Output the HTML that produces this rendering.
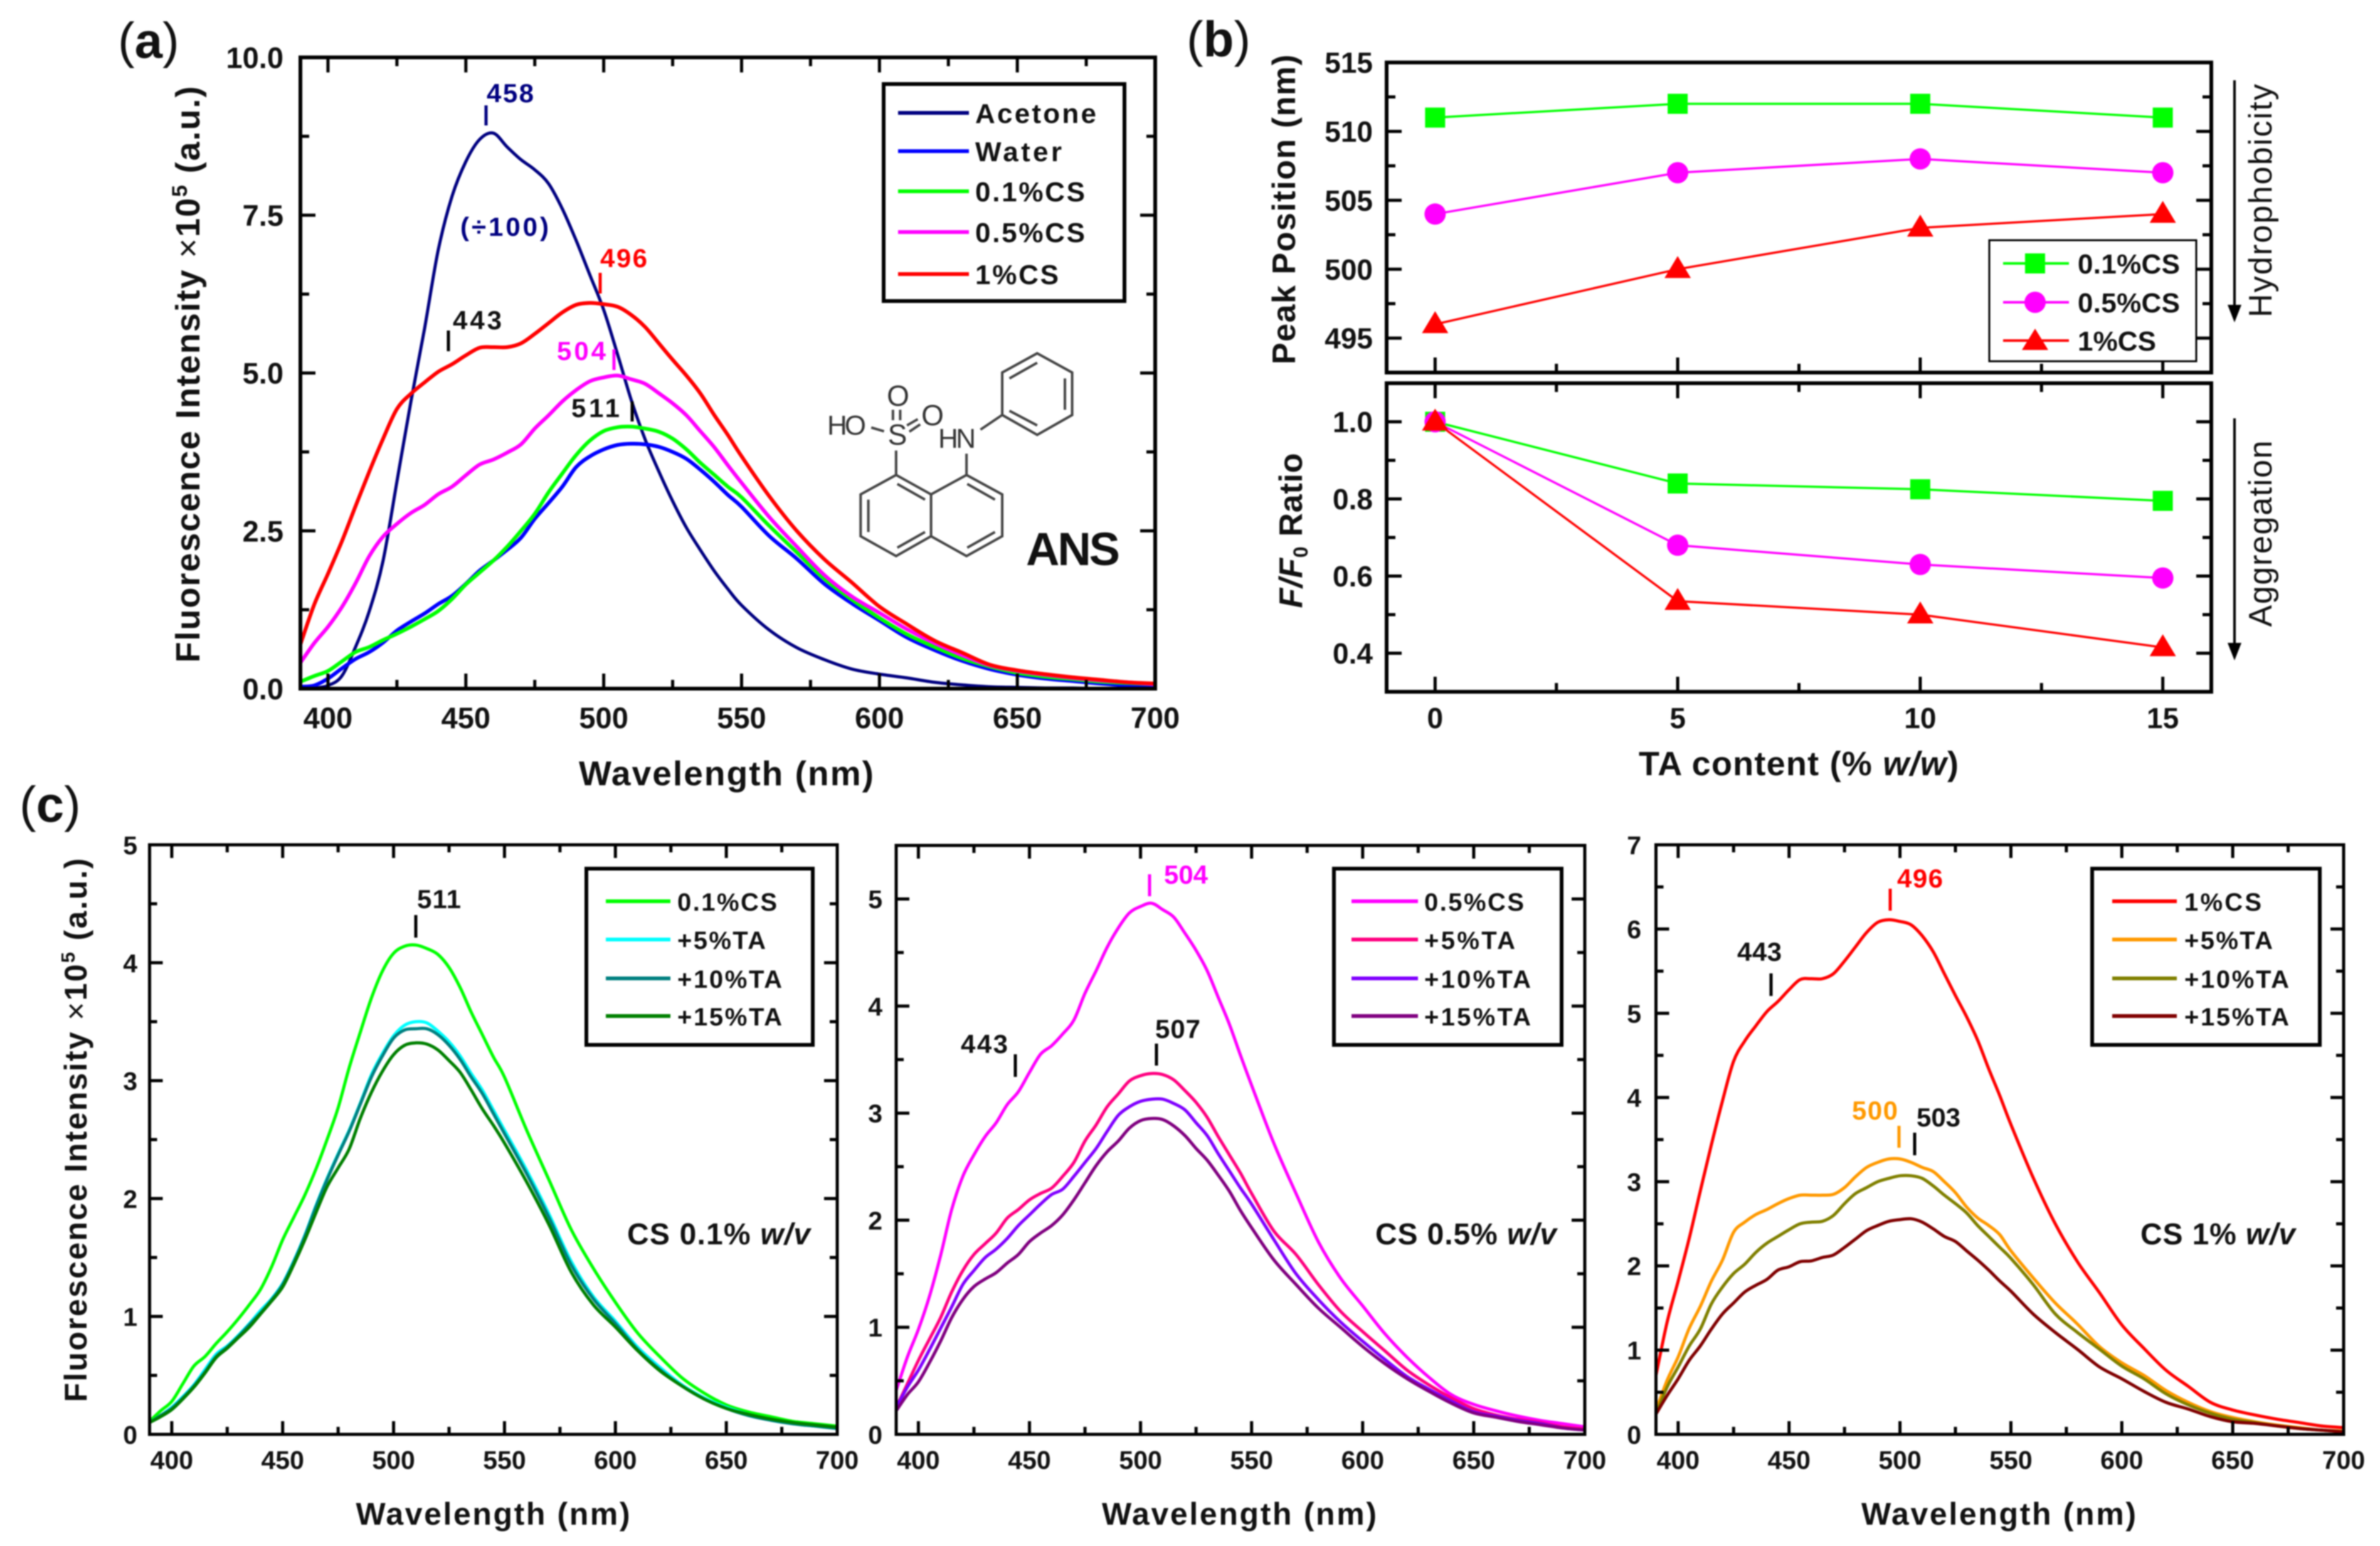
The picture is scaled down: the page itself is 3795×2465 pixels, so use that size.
<!DOCTYPE html>
<html lang="en">
<head>
<meta charset="utf-8">
<title>ANS fluorescence figure</title>
<style>
html,body{margin:0;padding:0;background:#fff}
svg{display:block;filter:blur(1px)}
text{font-family:"Liberation Sans",Arial,sans-serif;fill:#111}
.b{font-weight:bold}
.leg{font-weight:bold;font-size:44px}
.legc{font-weight:bold;font-size:40px}
.ann{font-weight:bold;font-size:42px}
.cond{font-weight:bold;font-size:48px}
.box{fill:#fff;stroke:#000;stroke-width:6}
.mol{stroke:#444;stroke-width:4;fill:none;vector-effect:non-scaling-stroke}
.t{stroke-width:5;fill:none}
</style>
</head>
<body>
<svg xmlns="http://www.w3.org/2000/svg" width="3795" height="2465" viewBox="0 0 3795 2465">
<rect width="3795" height="2465" fill="#fff"/>

<text x="188" y="92" font-size="80">(<tspan class="b">a</tspan>)</text>
<text x="1892" y="90" font-size="80">(<tspan class="b">b</tspan>)</text>
<text x="31" y="1310" font-size="80">(<tspan class="b">c</tspan>)</text>

<g id="layer-a"></g>
<g id="layer-b1"></g>
<g id="layer-b2"></g>
<g id="layer-c1"></g>
<g id="layer-c2"></g>
<g id="layer-c3"></g>

<!-- Panel a titles -->
<text transform="translate(318,597) rotate(-90)" text-anchor="middle" class="b" font-size="54" textLength="919">Fluorescence Intensity <tspan font-weight="normal">×</tspan>10<tspan font-size="34" dy="-20">5</tspan><tspan dy="20"> (a.u.)</tspan></text>
<text x="1158" y="1252" text-anchor="middle" class="b" font-size="55" textLength="470">Wavelength (nm)</text>

<!-- Panel a annotations -->
<g>
<line x1="775" y1="168" x2="775" y2="200" class="t" stroke="#000080"/>
<text x="776" y="163" class="ann" style="fill:#000080" textLength="75">458</text>
<text x="734" y="376" class="ann" style="fill:#000080" textLength="141">(÷100)</text>
<line x1="957" y1="435" x2="957" y2="468" class="t" stroke="#f00"/>
<text x="957" y="426" class="ann" style="fill:#f00" textLength="75">496</text>
<line x1="715" y1="527" x2="715" y2="560" class="t" stroke="#000"/>
<text x="722" y="525" class="ann" textLength="78">443</text>
<line x1="979" y1="557" x2="979" y2="590" class="t" stroke="#f0f"/>
<text x="888" y="574" class="ann" style="fill:#f0f" textLength="78">504</text>
<line x1="1008" y1="640" x2="1008" y2="672" class="t" stroke="#000"/>
<text x="911" y="665" class="ann" textLength="77">511</text>
</g>

<!-- Panel a legend -->
<g>
<rect x="1409" y="134" width="384" height="346" class="box"/>
<line x1="1432" x2="1545" y1="180" y2="180" stroke="#000080" stroke-width="6"/>
<text x="1555" y="196" class="leg" textLength="193">Acetone</text>
<line x1="1432" x2="1545" y1="241" y2="241" stroke="#00f" stroke-width="6"/>
<text x="1555" y="257" class="leg" textLength="138">Water</text>
<line x1="1432" x2="1545" y1="305" y2="305" stroke="#0f0" stroke-width="6"/>
<text x="1555" y="321" class="leg" textLength="175">0.1%CS</text>
<line x1="1432" x2="1545" y1="370" y2="370" stroke="#f0f" stroke-width="6"/>
<text x="1555" y="386" class="leg" textLength="175">0.5%CS</text>
<line x1="1432" x2="1545" y1="437" y2="437" stroke="#f00" stroke-width="6"/>
<text x="1555" y="453" class="leg" textLength="133">1%CS</text>
</g>

<!-- ANS molecule -->
<g>
<g transform="translate(1250,520) scale(.3846,.3333)">
<polygon class="mol" points="465,712 610,805 610,1005 465,1100 318,1005 318,805"/>
<polyline class="mol" points="610,805 757,712 905,805 905,1005 757,1100 610,1005"/>
<path class="mol" d="M470 755L585 830M350 830V985M470 1060L585 985M760 755L875 830M875 985L760 1060M465 712V595M757 712V610"/>
<polygon class="mol" points="1050,130 1195,222 1195,425 1050,520 905,425 905,222"/>
<path class="mol" d="M935 250L1050 175M1165 250V400M935 405L1050 475M815 495L905 425M452 400V450M482 400V450M510 475L555 445M520 505L565 470M362 485L415 503"/>
</g>
<text x="1319" y="693" font-size="44" textLength="62" style="fill:#333">HO</text>
<text x="1431" y="709" font-size="46" text-anchor="middle" style="fill:#333">S</text>
<text x="1432" y="647" font-size="46" text-anchor="middle" style="fill:#333">O</text>
<text x="1487" y="678" font-size="46" text-anchor="middle" style="fill:#333">O</text>
<text x="1496" y="714" font-size="44" textLength="60" style="fill:#333">HN</text>
<text x="1636" y="901" font-size="74" class="b" textLength="150">ANS</text>
</g>

<!-- Panel b titles -->
<text transform="translate(2065,334) rotate(-90)" text-anchor="middle" class="b" font-size="52" textLength="494">Peak Position (nm)</text>
<text transform="translate(2076,846) rotate(-90)" text-anchor="middle" class="b" font-size="52" textLength="247"><tspan font-style="italic">F/F</tspan><tspan font-size="32" dy="9">0</tspan><tspan dy="-9"> Ratio</tspan></text>
<text x="2868" y="1236" text-anchor="middle" class="b" font-size="54" textLength="510">TA content (% <tspan font-style="italic">w/w</tspan>)</text>
<text transform="translate(3622,320) rotate(-90)" text-anchor="middle" font-size="52" textLength="372">Hydrophobicity</text>
<text transform="translate(3622,851) rotate(-90)" text-anchor="middle" font-size="52" textLength="297">Aggregation</text>
<g>
<line x1="3563" y1="128" x2="3563" y2="495" stroke="#000" stroke-width="4"/><polygon points="3552,486 3574,486 3563,514" fill="#000"/>
</g>
<g>
<line x1="3563" y1="667" x2="3563" y2="1035" stroke="#000" stroke-width="4"/><polygon points="3552,1025 3574,1025 3563,1053" fill="#000"/>
</g>

<!-- Panel b legend -->
<g>
<rect x="3172" y="383" width="330" height="193" fill="#fff" stroke="#000" stroke-width="3"/>
<line x1="3194" x2="3299" y1="420" y2="420" stroke="#0f0" stroke-width="4"/>
<rect x="3229" y="404" width="32" height="32" fill="#0f0"/>
<text x="3313" y="436" class="leg" textLength="163">0.1%CS</text>
<line x1="3194" x2="3299" y1="482" y2="482" stroke="#f0f" stroke-width="4"/>
<circle cx="3245" cy="482" r="17" fill="#f0f"/>
<text x="3313" y="498" class="leg" textLength="163">0.5%CS</text>
<line x1="3194" x2="3299" y1="543" y2="543" stroke="#f00" stroke-width="4"/>
<polygon points="3245,524 3266,558 3224,558" fill="#f00"/>
<text x="3313" y="559" class="leg" textLength="125">1%CS</text>
</g>

<!-- Panel c titles -->
<text transform="translate(138,1802) rotate(-90)" text-anchor="middle" class="b" font-size="50" textLength="867">Fluorescence Intensity <tspan font-weight="normal">×</tspan>10<tspan font-size="31" dy="-19">5</tspan><tspan dy="19"> (a.u.)</tspan></text>
<text x="786" y="2431" text-anchor="middle" class="b" font-size="50" textLength="437">Wavelength (nm)</text>
<text x="1976" y="2431" text-anchor="middle" class="b" font-size="50" textLength="438">Wavelength (nm)</text>
<text x="3187" y="2431" text-anchor="middle" class="b" font-size="50" textLength="438">Wavelength (nm)</text>

<!-- Panel c1 overlays -->
<line x1="663" y1="1459" x2="663" y2="1495" class="t" stroke="#000"/>
<text x="665" y="1448" class="ann" textLength="70">511</text>
<text x="1000" y="1984" class="cond" textLength="292">CS 0.1% <tspan font-style="italic">w/v</tspan></text>
<g>
<rect x="935" y="1385" width="361" height="281" class="box"/>
<line x1="966" x2="1069" y1="1437" y2="1437" stroke="#0f0" stroke-width="6"/>
<text x="1080" y="1452" class="legc" textLength="159">0.1%CS</text>
<line x1="966" x2="1069" y1="1498" y2="1498" stroke="#0ff" stroke-width="6"/>
<text x="1080" y="1513" class="legc" textLength="141">+5%TA</text>
<line x1="966" x2="1069" y1="1560" y2="1560" stroke="#008080" stroke-width="6"/>
<text x="1080" y="1575" class="legc" textLength="167">+10%TA</text>
<line x1="966" x2="1069" y1="1620" y2="1620" stroke="#008000" stroke-width="6"/>
<text x="1080" y="1635" class="legc" textLength="167">+15%TA</text>
</g>

<!-- Panel c2 overlays -->
<line x1="1833" y1="1394" x2="1833" y2="1429" class="t" stroke="#f0f"/>
<text x="1856" y="1409" class="ann" style="fill:#f0f" textLength="70">504</text>
<line x1="1844" y1="1664" x2="1844" y2="1699" class="t" stroke="#000"/>
<text x="1842" y="1655" class="ann" textLength="72">507</text>
<line x1="1619" y1="1681" x2="1619" y2="1717" class="t" stroke="#000"/>
<text x="1532" y="1679" class="ann" textLength="75">443</text>
<text x="2193" y="1984" class="cond" textLength="289">CS 0.5% <tspan font-style="italic">w/v</tspan></text>
<g>
<rect x="2127" y="1385" width="363" height="281" class="box"/>
<line x1="2155" x2="2261" y1="1437" y2="1437" stroke="#f0f" stroke-width="6"/>
<text x="2271" y="1452" class="legc" textLength="159">0.5%CS</text>
<line x1="2155" x2="2261" y1="1498" y2="1498" stroke="#ff0080" stroke-width="6"/>
<text x="2271" y="1513" class="legc" textLength="145">+5%TA</text>
<line x1="2155" x2="2261" y1="1560" y2="1560" stroke="#8000ff" stroke-width="6"/>
<text x="2271" y="1575" class="legc" textLength="170">+10%TA</text>
<line x1="2155" x2="2261" y1="1620" y2="1620" stroke="#800080" stroke-width="6"/>
<text x="2271" y="1635" class="legc" textLength="170">+15%TA</text>
</g>

<!-- Panel c3 overlays -->
<line x1="3014" y1="1417" x2="3014" y2="1452" class="t" stroke="#f00"/>
<text x="3025" y="1415" class="ann" style="fill:#f00" textLength="73">496</text>
<line x1="2824" y1="1552" x2="2824" y2="1588" class="t" stroke="#000"/>
<text x="2770" y="1532" class="ann" textLength="71">443</text>
<line x1="3028" y1="1795" x2="3028" y2="1830" class="t" stroke="#ff9900"/>
<text x="2953" y="1785" class="ann" style="fill:#ff9900" textLength="73">500</text>
<line x1="3053" y1="1806" x2="3053" y2="1842" class="t" stroke="#000"/>
<text x="3056" y="1796" class="ann" textLength="70">503</text>
<text x="3413" y="1984" class="cond" textLength="247">CS 1% <tspan font-style="italic">w/v</tspan></text>
<g>
<rect x="3336" y="1385" width="363" height="281" class="box"/>
<line x1="3368" x2="3471" y1="1437" y2="1437" stroke="#f00" stroke-width="6"/>
<text x="3483" y="1452" class="legc" textLength="123">1%CS</text>
<line x1="3368" x2="3471" y1="1498" y2="1498" stroke="#ff9900" stroke-width="6"/>
<text x="3483" y="1513" class="legc" textLength="141">+5%TA</text>
<line x1="3368" x2="3471" y1="1560" y2="1560" stroke="#808000" stroke-width="6"/>
<text x="3483" y="1575" class="legc" textLength="167">+10%TA</text>
<line x1="3368" x2="3471" y1="1620" y2="1620" stroke="#800000" stroke-width="6"/>
<text x="3483" y="1635" class="legc" textLength="167">+15%TA</text>
</g>
</svg>

<script>
const wavelengths=[390,395,400,405,410,415,420,425,430,435,440,445,450,455,460,465,470,475,480,485,490,495,500,505,510,515,520,525,530,535,540,545,550,560,570,580,590,600,610,620,630,640,650,660,670,680,690,700];
const acetone=[0,.01,.05,.2,.66,1.23,2.03,3.28,4.53,5.7,6.95,7.8,8.35,8.7,8.8,8.58,8.38,8.22,8,7.6,7.1,6.55,6,5.3,4.57,3.95,3.44,2.97,2.55,2.2,1.87,1.58,1.32,.93,.65,.46,.31,.23,.17,.1,.06,.03,.02,.01,.01,0,0,0];
const water=[.03,.05,.16,.32,.47,.58,.73,.92,1.06,1.19,1.34,1.47,1.66,1.87,2.03,2.2,2.39,2.69,2.94,3.2,3.51,3.68,3.79,3.86,3.88,3.87,3.83,3.75,3.64,3.47,3.28,3.07,2.88,2.42,2.06,1.66,1.35,1.08,.81,.61,.44,.31,.22,.16,.12,.08,.05,.03];
const cs01=[.11,.2,.28,.43,.58,.66,.77,.87,.98,1.1,1.23,1.42,1.65,1.84,2.03,2.25,2.5,2.77,3.11,3.41,3.7,3.93,4.08,4.14,4.15,4.12,4.07,3.96,3.79,3.58,3.39,3.2,3.03,2.58,2.16,1.74,1.41,1.12,.86,.66,.48,.35,.25,.19,.15,.11,.09,.07];
const cs01Ta5=[.1,.16,.23,.32,.42,.55,.68,.75,.84,.94,1.05,1.15,1.28,1.47,1.69,1.94,2.17,2.38,2.58,2.81,3.05,3.23,3.38,3.47,3.5,3.49,3.42,3.33,3.21,3.06,2.92,2.75,2.58,2.24,1.87,1.47,1.17,.96,.74,.57,.42,.31,.23,.17,.12,.09,.07,.05];
const cs01Ta10=[.1,.16,.22,.31,.41,.53,.66,.74,.83,.93,1.03,1.14,1.27,1.46,1.68,1.93,2.16,2.37,2.57,2.8,3.03,3.21,3.36,3.43,3.44,3.44,3.39,3.3,3.18,3.03,2.89,2.72,2.55,2.21,1.84,1.44,1.15,.94,.72,.55,.41,.3,.22,.16,.12,.09,.07,.05];
const cs01Ta15=[.1,.15,.21,.3,.4,.52,.65,.73,.82,.91,1.02,1.13,1.25,1.44,1.65,1.88,2.1,2.26,2.42,2.68,2.9,3.08,3.22,3.3,3.32,3.31,3.26,3.17,3.07,2.92,2.76,2.62,2.47,2.14,1.78,1.38,1.1,.91,.71,.54,.41,.3,.22,.17,.13,.1,.08,.06];
const cs05=[.41,.72,.98,1.29,1.67,2.1,2.41,2.61,2.78,2.91,3.08,3.2,3.38,3.55,3.63,3.74,3.87,4.12,4.33,4.55,4.73,4.87,4.93,4.96,4.9,4.83,4.68,4.52,4.33,4.08,3.83,3.54,3.26,2.72,2.25,1.8,1.46,1.2,.94,.72,.53,.37,.28,.22,.17,.13,.1,.07];
const cs05Ta5=[.25,.47,.69,.89,1.09,1.33,1.53,1.68,1.78,1.88,2.02,2.1,2.19,2.25,2.3,2.41,2.54,2.74,2.89,3.06,3.18,3.3,3.35,3.37,3.36,3.31,3.21,3.1,2.96,2.78,2.61,2.44,2.25,1.9,1.68,1.4,1.15,.96,.78,.6,.46,.34,.24,.18,.14,.11,.07,.05];
const cs05Ta10=[.25,.44,.6,.79,.99,1.19,1.4,1.53,1.65,1.73,1.83,1.95,2.05,2.15,2.24,2.29,2.41,2.54,2.67,2.83,2.98,3.06,3.11,3.13,3.13,3.09,3.03,2.91,2.79,2.62,2.46,2.3,2.15,1.82,1.5,1.26,1.05,.87,.7,.54,.42,.31,.21,.17,.13,.1,.06,.04];
const cs05Ta15=[.22,.37,.49,.67,.87,1.09,1.26,1.38,1.45,1.51,1.6,1.68,1.8,1.88,1.95,2.05,2.19,2.35,2.51,2.64,2.74,2.86,2.93,2.95,2.94,2.88,2.79,2.67,2.56,2.42,2.27,2.09,1.93,1.63,1.4,1.18,1,.82,.66,.52,.4,.29,.2,.16,.12,.09,.06,.04];
const cs1=[.7,1.33,1.82,2.33,2.89,3.44,3.96,4.43,4.67,4.85,5.02,5.14,5.28,5.4,5.41,5.41,5.47,5.62,5.79,5.96,6.08,6.11,6.09,6.05,5.92,5.73,5.47,5.21,4.96,4.68,4.34,4.02,3.68,3.05,2.5,2.05,1.68,1.3,1.02,.76,.57,.38,.29,.23,.18,.14,.1,.08];
const cs1Ta5=[.28,.64,.92,1.26,1.52,1.82,2.07,2.4,2.52,2.61,2.67,2.74,2.8,2.84,2.84,2.84,2.85,2.93,3.06,3.17,3.23,3.27,3.27,3.23,3.17,3.12,3,2.87,2.7,2.57,2.48,2.37,2.18,1.86,1.56,1.31,1.04,.85,.7,.52,.38,.27,.2,.15,.11,.08,.05,.04];
const cs1Ta10=[.24,.56,.8,1.05,1.25,1.55,1.75,1.91,2.02,2.16,2.27,2.35,2.43,2.5,2.52,2.53,2.6,2.74,2.86,2.93,3,3.04,3.07,3.07,3.04,2.95,2.84,2.74,2.63,2.48,2.35,2.22,2.09,1.78,1.43,1.21,1.01,.81,.66,.48,.35,.25,.18,.14,.1,.07,.05,.03];
const cs1Ta15=[.24,.46,.66,.88,1.05,1.25,1.43,1.56,1.69,1.77,1.84,1.95,1.99,2.05,2.06,2.1,2.13,2.22,2.32,2.42,2.48,2.53,2.55,2.56,2.52,2.44,2.35,2.29,2.18,2.07,1.95,1.82,1.7,1.43,1.21,1.01,.8,.66,.51,.38,.3,.21,.15,.13,.1,.07,.05,.03];

const taContent=[0,5,10,15];
const peak01=[511,512,512,511];
const peak05=[504,507,508,507];
const peak1=[496,500,503,504];
const ratio01=[1,.84,.825,.795];
const ratio05=[1,.68,.63,.595];
const ratio1=[1,.535,.5,.415];

const wlMajorTicks=[400,450,500,550,600,650,700];
const wlMinorTicks=[425,475,525,575,625,675];
const aYLabels=['0.0','2.5','5.0','7.5','10.0'];
const aYMinor=[1.25,3.75,6.25,8.75];
const c1YLabels=['0','1','2','3','4','5'];
const c1YMinor=[.5,1.5,2.5,3.5,4.5];
const c2YLabels=['0','1','2','3','4','5'];
const c2YMinor=[.5,1.5,2.5,3.5,4.5];
const c3YLabels=['0','1','2','3','4','5','6','7'];
const c3YMinor=[.5,1.5,2.5,3.5,4.5,5.5,6.5];
const taMajorTicks=[0,5,10,15];
const taMinorTicks=[2.5,7.5,12.5];
const peakYLabels=['495','500','505','510','515'];
const peakYMinor=[497.5,502.5,507.5,512.5];
const ratioYLabels=['0.4','0.6','0.8','1.0'];
const ratioYMinor=[.5,.7,.9];

const NS='http://www.w3.org/2000/svg';

function add(parent,tag,name){
  const node=document.createElementNS(NS,tag);
  
  
  parent.appendChild(node);
  return node;
}

function makePlot(id,box,xDomain,yDomain){
  const g=document.getElementById(id);
  const sx=v=>box.l+(v-xDomain[0])/(xDomain[1]-xDomain[0])*(box.r-box.l);
  const sy=v=>box.b-(v-yDomain[0])/(yDomain[1]-yDomain[0])*(box.b-box.t);
  return {g,box,sx,sy,id};
}

function smoothPath(xs,ys,p){
  const pts=xs.map((x,i)=>[p.sx(x),p.sy(ys[i])]);
  let d='M'+pts[0][0].toFixed(1)+' '+pts[0][1].toFixed(1);
  for(let i=0;i<pts.length-1;i++){
    const a=pts[Math.max(i-1,0)],b=pts[i],c=pts[i+1],e=pts[Math.min(i+2,pts.length-1)];
    const c1x=b[0]+(c[0]-a[0])/6,c1y=b[1]+(c[1]-a[1])/6;
    const c2x=c[0]-(e[0]-b[0])/6,c2y=c[1]-(e[1]-b[1])/6;
    d+='C'+c1x.toFixed(1)+' '+c1y.toFixed(1)+' '+c2x.toFixed(1)+' '+c2y.toFixed(1)+' '+c[0].toFixed(1)+' '+c[1].toFixed(1);
  }
  return d;
}

function curve(p,xs,ys,color,width,name){
  const path=add(p.g,'path',name);
  path.setAttribute('d',smoothPath(xs,ys,p));
  path.setAttribute('fill','none');
  path.setAttribute('stroke',color);
  path.setAttribute('stroke-width',width);
  path.setAttribute('stroke-linejoin','round');
}

function tickLine(parent,x1,y1,x2,y2,w){
  const t=add(parent,'line','axis-tick');
  t.setAttribute('x1',x1);t.setAttribute('y1',y1);t.setAttribute('x2',x2);t.setAttribute('y2',y2);
  t.setAttribute('stroke','#000');t.setAttribute('stroke-width',w);
}

function label(parent,x,y,str,size,anchor){
  const t=add(parent,'text','tick-label');
  t.setAttribute('x',x);t.setAttribute('y',y);
  t.setAttribute('font-size',size);t.setAttribute('font-weight','bold');
  t.setAttribute('text-anchor',anchor);
  t.textContent=str;
}

function axes(p,o){
  const b=p.box,g=add(p.g,'g','axes');
  const major=o.major||24,minor=o.minor||14,w=o.tw||5;
  o.xMajor.forEach(v=>{
    tickLine(g,p.sx(v),b.b,p.sx(v),b.b-major,w);
    if(o.xTicksTop!==false) tickLine(g,p.sx(v),b.t,p.sx(v),b.t+major,w);
  });
  o.xMinor.forEach(v=>{
    tickLine(g,p.sx(v),b.b,p.sx(v),b.b-minor,w);
    if(o.xTicksTop!==false) tickLine(g,p.sx(v),b.t,p.sx(v),b.t+minor,w);
  });
  o.yLabels.forEach(s=>{
    const v=parseFloat(s);
    tickLine(g,b.l,p.sy(v),b.l+major,p.sy(v),w);
    tickLine(g,b.r,p.sy(v),b.r-major,p.sy(v),w);
    label(g,o.yLabelX,p.sy(v)+o.fs*.36,s,o.fs,'end');
  });
  o.yMinor.forEach(v=>{
    tickLine(g,b.l,p.sy(v),b.l+minor,p.sy(v),w);
    tickLine(g,b.r,p.sy(v),b.r-minor,p.sy(v),w);
  });
  if(o.xLabelY){
    o.xMajor.forEach(v=>label(g,p.sx(v),o.xLabelY,String(v),o.fs,'middle'));
  }
  const frame=add(g,'rect','plot-frame');
  frame.setAttribute('x',b.l);frame.setAttribute('y',b.t);
  frame.setAttribute('width',b.r-b.l);frame.setAttribute('height',b.b-b.t);
  frame.setAttribute('fill','none');frame.setAttribute('stroke','#000');
  frame.setAttribute('stroke-width',o.fw||6);
}

function marker(p,kind,x,y,color,name){
  const px=p.sx(x),py=p.sy(y);
  let m;
  if(kind==='square'){
    m=add(p.g,'rect',name);
    m.setAttribute('x',px-16);m.setAttribute('y',py-16);m.setAttribute('width',32);m.setAttribute('height',32);
  }else if(kind==='circle'){
    m=add(p.g,'circle',name);
    m.setAttribute('cx',px);m.setAttribute('cy',py);m.setAttribute('r',17);
  }else{
    m=add(p.g,'polygon',name);
    m.setAttribute('points',px+','+(py-21)+' '+(px+21)+','+(py+14)+' '+(px-21)+','+(py+14));
  }
  m.setAttribute('fill',color);
}

function linesAndMarkers(p,xs,ys,color,kind,name){
  const l=add(p.g,'polyline',name+'-line');
  l.setAttribute('points',xs.map((x,i)=>p.sx(x)+','+p.sy(ys[i])).join(' '));
  l.setAttribute('fill','none');l.setAttribute('stroke',color);l.setAttribute('stroke-width',3.5);
  xs.forEach((x,i)=>marker(p,kind,x,ys[i],color,name+'-point'));
}

/* Panel a */
const pa=makePlot('layer-a',{l:479,r:1842,t:91.5,b:1098},[390,700],[0,10]);
curve(pa,wavelengths,acetone,'#000080',5,'series-acetone');
curve(pa,wavelengths,water,'#0000ff',6,'series-water');
curve(pa,wavelengths,cs01,'#00ff00',6,'series-cs01');
curve(pa,wavelengths,cs05,'#ff00ff',6,'series-cs05');
curve(pa,wavelengths,cs1,'#ff0000',6,'series-cs1');
axes(pa,{xMajor:wlMajorTicks,xMinor:wlMinorTicks,yLabels:aYLabels,yMinor:aYMinor,fs:47,yLabelX:452,xLabelY:1161});

/* Panel b */
const pb1=makePlot('layer-b1',{l:2211,r:3526,t:99.6,b:594},[-1,16],[492.5,515]);
linesAndMarkers(pb1,taContent,peak01,'#00ff00','square','peak-cs01');
linesAndMarkers(pb1,taContent,peak05,'#ff00ff','circle','peak-cs05');
linesAndMarkers(pb1,taContent,peak1,'#ff0000','triangle','peak-cs1');
axes(pb1,{xMajor:taMajorTicks,xMinor:taMinorTicks,yLabels:peakYLabels,yMinor:peakYMinor,fs:46,yLabelX:2189,xTicksTop:false});
const pb2=makePlot('layer-b2',{l:2211,r:3526,t:611,b:1103},[-1,16],[.3,1.1]);
linesAndMarkers(pb2,taContent,ratio01,'#00ff00','square','ratio-cs01');
linesAndMarkers(pb2,taContent,ratio05,'#ff00ff','circle','ratio-cs05');
linesAndMarkers(pb2,taContent,ratio1,'#ff0000','triangle','ratio-cs1');
axes(pb2,{xMajor:taMajorTicks,xMinor:taMinorTicks,yLabels:ratioYLabels,yMinor:ratioYMinor,fs:46,yLabelX:2189,xLabelY:1161});

/* Panel c */
const pc1=makePlot('layer-c1',{l:238.5,r:1335,t:1347,b:2287},[390,700],[0,5]);
curve(pc1,wavelengths,cs01,'#00ff00',5,'series-c1-base');
curve(pc1,wavelengths,cs01Ta5,'#00ffff',5,'series-c1-ta5');
curve(pc1,wavelengths,cs01Ta10,'#008080',5,'series-c1-ta10');
curve(pc1,wavelengths,cs01Ta15,'#008000',5,'series-c1-ta15');
axes(pc1,{xMajor:wlMajorTicks,xMinor:wlMinorTicks,yLabels:c1YLabels,yMinor:c1YMinor,fs:41,yLabelX:219,xLabelY:2342,major:21,minor:12,fw:5});

const pc2=makePlot('layer-c2',{l:1429,r:2527,t:1348,b:2287},[390,700],[0,5.5]);
curve(pc2,wavelengths,cs05,'#ff00ff',5,'series-c2-base');
curve(pc2,wavelengths,cs05Ta5,'#ff0080',5,'series-c2-ta5');
curve(pc2,wavelengths,cs05Ta10,'#8000ff',5,'series-c2-ta10');
curve(pc2,wavelengths,cs05Ta15,'#800080',5,'series-c2-ta15');
axes(pc2,{xMajor:wlMajorTicks,xMinor:wlMinorTicks,yLabels:c2YLabels,yMinor:c2YMinor,fs:41,yLabelX:1407,xLabelY:2342,major:21,minor:12,fw:5});

const pc3=makePlot('layer-c3',{l:2640.5,r:3737,t:1347,b:2287},[390,700],[0,7]);
curve(pc3,wavelengths,cs1,'#ff0000',5,'series-c3-base');
curve(pc3,wavelengths,cs1Ta5,'#ff9900',5,'series-c3-ta5');
curve(pc3,wavelengths,cs1Ta10,'#808000',5,'series-c3-ta10');
curve(pc3,wavelengths,cs1Ta15,'#800000',5,'series-c3-ta15');
axes(pc3,{xMajor:wlMajorTicks,xMinor:wlMinorTicks,yLabels:c3YLabels,yMinor:c3YMinor,fs:41,yLabelX:2617,xLabelY:2342,major:21,minor:12,fw:5});
</script>
</body>
</html>
